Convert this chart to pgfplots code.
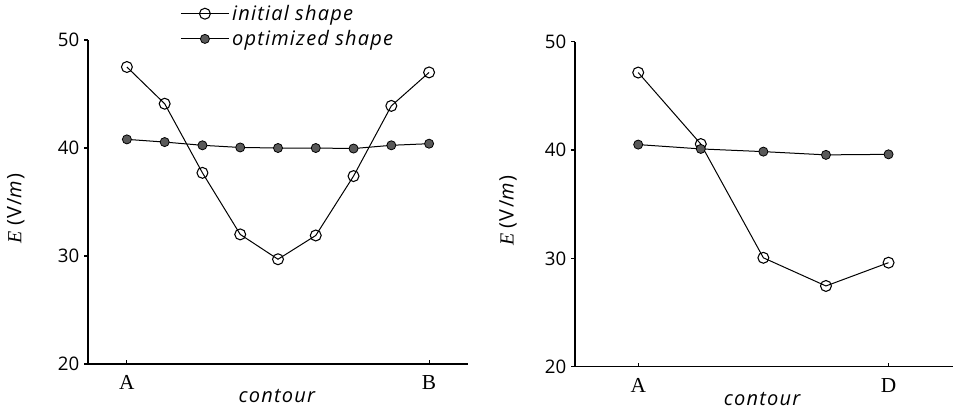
\documentclass[border=0pt]{standalone}
\usepackage{fontspec}
\setmainfont{Liberation Serif}
\setsansfont{Open Sans}
\newfontfamily\lsans[LetterSpace=6]{Open Sans}
\usepackage{pgfplots}
\pgfplotsset{compat=1.18}
\definecolor{markgray}{gray}{0.35}
\pgfplotsset{
  myaxis/.style={
    scale only axis,
    axis x line*=bottom, axis y line*=left,
    axis line style={line width=0.9pt, -},
    ymin=20, ymax=50, ytick={20,30,40,50},
    tick style={black, line width=0.8pt},
    major tick length=3pt,
    ytick align=outside, xtick align=inside,
    /pgf/number format/assume math mode=true,
    yticklabel style={font=\sffamily\fontsize{14}{16}\selectfont},
    xticklabel style={font=\rmfamily\fontsize{16}{18}\selectfont, yshift=-5pt},
    ylabel={\rmfamily\itshape E \lsans\upshape(V/\textit{m})},
    xlabel={\lsans\itshape contour},
    every axis plot/.append style={black, line width=0.75pt},
  },
  initial/.style={mark=o, mark size=4.1pt, mark options={fill=white, line width=0.8pt}},
  optimized/.style={mark=*, mark size=3.4pt, mark options={fill=markgray, draw=black, line width=0.6pt}},
}
\begin{document}
\begin{tikzpicture}
\useasboundingbox (0,0) rectangle (718.5pt,-309pt);
\begin{axis}[myaxis,
  at={(66pt,-273pt)}, anchor=south west,
  width=285pt, height=243pt,
  xmin=-1.03, xmax=9.03,
  xtick={0,8}, xticklabels={A,B},
  xlabel style={font=\fontsize{15}{17}\selectfont, at={(axis description cs:0.497,-0.098)}, anchor=center},
  ylabel style={font=\fontsize{15}{17}\selectfont, at={(axis description cs:-0.19,0.48)}, anchor=center},
  legend style={draw=none, fill=none, at={(axis description cs:0.232,1.125)}, anchor=north west,
    font=\lsans\itshape\fontsize{15}{18}\selectfont, row sep=2pt, cells={anchor=west}},
  legend image code/.code={\draw[mark repeat=2,mark phase=2] plot coordinates {(0pt,0pt)(18pt,0pt)(36pt,0pt)};},
]
\addplot[initial] coordinates {
(0,47.5) (1,44.1) (2,37.7) (3,32.0) (4,29.7) (5,31.9) (6,37.4) (7,43.9) (8,47.0)};
\addlegendentry{initial shape}
\addplot[optimized] coordinates {
(0,40.8) (1,40.55) (2,40.25) (3,40.05) (4,40.0) (5,40.0) (6,39.95) (7,40.25) (8,40.4)};
\addlegendentry{optimized shape}
\end{axis}
\begin{axis}[myaxis,
  at={(431.25pt,-275pt)}, anchor=south west,
  width=283.5pt, height=243.75pt,
  xmin=-1.01, xmax=5.03,
  xtick={0,4}, xticklabels={A,D},
  xlabel style={font=\fontsize{15}{17}\selectfont, at={(axis description cs:0.495,-0.098)}, anchor=center},
  ylabel style={font=\fontsize{15}{17}\selectfont, at={(axis description cs:-0.177,0.48)}, anchor=center},
]
\addplot[initial] coordinates {
(0,47.15) (1,40.55) (2,30.05) (3,27.45) (4,29.6)};
\addplot[optimized] coordinates {
(0,40.5) (1,40.1) (2,39.85) (3,39.55) (4,39.6)};
\end{axis}
\end{tikzpicture}
\end{document}
